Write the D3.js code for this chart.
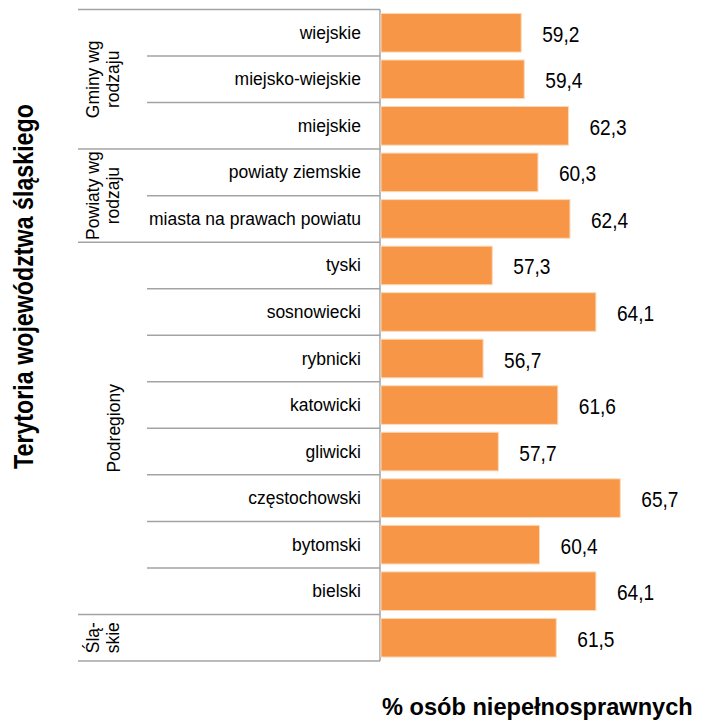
<!DOCTYPE html>
<html><head><meta charset="utf-8">
<script src="https://cdn.jsdelivr.net/npm/d3@7"></script>
<style>
html,body{margin:0;padding:0;background:#fff;}
svg{display:block;}
</style></head>
<body>
<svg id="chart" width="702" height="722"></svg>
<script>
const categories = ["wiejskie","miejsko-wiejskie","miejskie","powiaty ziemskie","miasta na prawach powiatu","tyski","sosnowiecki","rybnicki","katowicki","gliwicki","częstochowski","bytomski","bielski",""];
const values = [59.2,59.4,62.3,60.3,62.4,57.3,64.1,56.7,61.6,57.7,65.7,60.4,64.1,61.5];
const groupOf = [0,0,0,1,1,2,2,2,2,2,2,2,2,3];
const groupLabels = [["Gminy wg","rodzaju"],["Powiaty wg","rodzaju"],["Podregiony"],["Śl\u0105-","skie"]];
const yTitle = "Terytoria województwa śląskiego";
const xTitle = "% osób niepełnosprawnych";

(function(){
const svg = d3.select("#chart");
const plotTop = 9.5, plotBottom = 661, axisX = 380;
const y = d3.scaleBand().domain(categories).range([plotTop,plotBottom]).paddingInner(0.17).paddingOuter(0.085);
const x = d3.scaleLinear().domain([50,70]).range([381,381+20*15.24]);
const fmt = v => d3.format(".1f")(v).replace(".",",");
const lineCol = "#a3a3a3";
const reg = "'Liberation Sans', Arial, sans-serif";

const step = y.step();
const bandTop = i => plotTop + i*step;
svg.append("line").attr("x1",78).attr("x2",axisX).attr("y1",bandTop(0)).attr("y2",bandTop(0)).attr("stroke",lineCol).attr("stroke-width",1.5);
categories.forEach((c,i)=>{
  const yy = bandTop(i+1);
  const isGroupEnd = i===categories.length-1 || groupOf[i+1]!==groupOf[i];
  svg.append("line").attr("x1",isGroupEnd?78:147).attr("x2",axisX).attr("y1",yy).attr("y2",yy)
    .attr("stroke",lineCol).attr("stroke-width",1.5);
});
svg.append("line").attr("x1",axisX).attr("x2",axisX).attr("y1",plotTop).attr("y2",plotBottom).attr("stroke",lineCol).attr("stroke-width",1.5);

svg.selectAll("rect.bar").data(values).join("rect").attr("class","bar")
  .attr("x",x(50)).attr("y",(d,i)=>y(categories[i]))
  .attr("width",d=>x(d)-x(50)).attr("height",y.bandwidth())
  .attr("fill","#F79646").attr("stroke","#fcd9b8").attr("stroke-width",1);

svg.selectAll("text.val").data(values).join("text").attr("class","val")
  .attr("transform",(d,i)=>`translate(${x(d)+21},${y(categories[i])+y.bandwidth()/2+9}) scale(0.85,1)`)
  .attr("font-family",reg).attr("font-size",22.5).attr("fill","#000").text(fmt);

svg.selectAll("text.cat").data(categories).join("text").attr("class","cat")
  .attr("x",361).attr("y",d=>y(d)+y.bandwidth()/2+6)
  .attr("text-anchor","end").attr("font-family",reg).attr("font-size",17.5).attr("fill","#000").text(d=>d);

groupLabels.forEach((lines,g)=>{
  const idx = groupOf.map((v,i)=>v===g?i:-1).filter(i=>i>=0);
  const cy = (bandTop(idx[0]) + bandTop(idx[idx.length-1]+1))/2;
  const xs = lines.length===2 ? [99,119] : [120];
  lines.forEach((t,k)=>{
    svg.append("text").attr("transform",`translate(${xs[k]},${cy}) rotate(-90)`)
      .attr("text-anchor","middle").attr("font-family",reg).attr("font-size",17.5).attr("fill","#000").text(t);
  });
});

svg.append("text").attr("transform","translate(33,469) rotate(-90) scale(0.83,1)")
  .attr("font-family",reg).attr("font-weight","bold").attr("font-size",28).attr("fill","#000").text(yTitle);
svg.append("text").attr("x",382).attr("y",715)
  .attr("font-family",reg).attr("font-weight","bold").attr("font-size",23.6).attr("fill","#000").text(xTitle);
})();
</script>
</body></html>
